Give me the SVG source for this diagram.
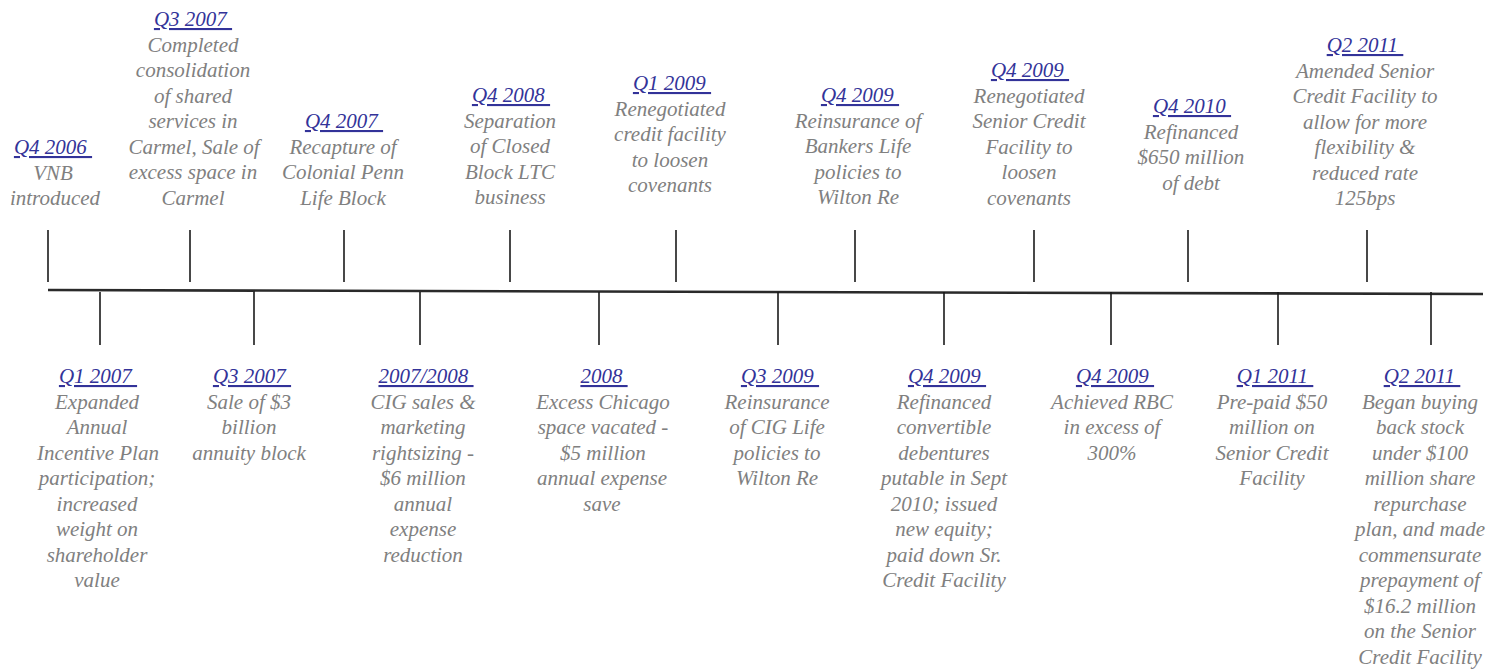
<svg xmlns="http://www.w3.org/2000/svg" width="1506" height="671" viewBox="0 0 1506 671">
<style>
text { font-family: "Liberation Serif", "Times New Roman", serif; font-style: italic; font-size: 21px; text-anchor: middle; }
.date { fill: #333399; text-decoration: underline; white-space: pre; }
.body { fill: #808080; }
.tick { stroke: #1a1a1a; stroke-width: 1.6; }
.axis { stroke: #2a2a2a; stroke-width: 2.6; }
</style>
<rect width="1506" height="671" fill="#ffffff"/>
<g id="connectors">
<line class="axis" x1="48" y1="290" x2="1483" y2="294"/>
<line class="tick" x1="48" y1="230" x2="48" y2="282"/>
<line class="tick" x1="190" y1="230" x2="190" y2="282"/>
<line class="tick" x1="344" y1="230" x2="344" y2="282"/>
<line class="tick" x1="510" y1="230" x2="510" y2="282"/>
<line class="tick" x1="676" y1="230" x2="676" y2="282"/>
<line class="tick" x1="855" y1="230" x2="855" y2="282"/>
<line class="tick" x1="1034" y1="230" x2="1034" y2="282"/>
<line class="tick" x1="1188" y1="230" x2="1188" y2="282"/>
<line class="tick" x1="1367" y1="230" x2="1367" y2="282"/>
<line class="tick" x1="100" y1="292" x2="100" y2="345"/>
<line class="tick" x1="254" y1="292" x2="254" y2="345"/>
<line class="tick" x1="420" y1="292" x2="420" y2="345"/>
<line class="tick" x1="599" y1="292" x2="599" y2="345"/>
<line class="tick" x1="778" y1="292" x2="778" y2="345"/>
<line class="tick" x1="944" y1="292" x2="944" y2="345"/>
<line class="tick" x1="1111" y1="292" x2="1111" y2="345"/>
<line class="tick" x1="1278" y1="292" x2="1278" y2="345"/>
<line class="tick" x1="1431" y1="292" x2="1431" y2="345"/>
</g>
<g id="u1"><text class="date" x="53" y="154" xml:space="preserve">Q4 2006 </text><text class="body"><tspan x="53" y="179.5">VNB</tspan><tspan x="55" y="205">introduced</tspan></text></g>
<g id="u2"><text class="date" x="193" y="26" xml:space="preserve">Q3 2007 </text><text class="body"><tspan x="193" y="51.5">Completed</tspan><tspan x="193" y="77">consolidation</tspan><tspan x="193" y="102.5">of shared</tspan><tspan x="193" y="128">services in</tspan><tspan x="194" y="153.5">Carmel, Sale of</tspan><tspan x="193" y="179">excess space in</tspan><tspan x="193" y="204.5">Carmel</tspan></text></g>
<g id="u3"><text class="date" x="344" y="128" xml:space="preserve">Q4 2007 </text><text class="body"><tspan x="343" y="153.5">Recapture of</tspan><tspan x="343" y="179">Colonial Penn</tspan><tspan x="343" y="204.5">Life Block</tspan></text></g>
<g id="u4"><text class="date" x="511" y="102" xml:space="preserve">Q4 2008 </text><text class="body"><tspan x="510" y="127.5">Separation</tspan><tspan x="510" y="153">of Closed</tspan><tspan x="510" y="178.5">Block LTC</tspan><tspan x="510" y="204">business</tspan></text></g>
<g id="u5"><text class="date" x="672" y="90" xml:space="preserve">Q1 2009 </text><text class="body"><tspan x="670" y="115.5">Renegotiated</tspan><tspan x="670" y="141">credit facility</tspan><tspan x="670" y="166.5">to loosen</tspan><tspan x="670" y="192">covenants</tspan></text></g>
<g id="u6"><text class="date" x="860" y="102" xml:space="preserve">Q4 2009 </text><text class="body"><tspan x="858" y="127.5">Reinsurance of</tspan><tspan x="858" y="153">Bankers Life</tspan><tspan x="858" y="178.5">policies to</tspan><tspan x="858" y="204">Wilton Re</tspan></text></g>
<g id="u7"><text class="date" x="1030" y="77" xml:space="preserve">Q4 2009 </text><text class="body"><tspan x="1029" y="102.5">Renegotiated</tspan><tspan x="1029" y="128">Senior Credit</tspan><tspan x="1029" y="153.5">Facility to</tspan><tspan x="1029" y="179">loosen</tspan><tspan x="1029" y="204.5">covenants</tspan></text></g>
<g id="u8"><text class="date" x="1192" y="113" xml:space="preserve">Q4 2010 </text><text class="body"><tspan x="1191" y="138.5">Refinanced</tspan><tspan x="1191" y="164">$650 million</tspan><tspan x="1191" y="189.5">of debt</tspan></text></g>
<g id="u9"><text class="date" x="1365" y="52" xml:space="preserve">Q2 2011 </text><text class="body"><tspan x="1365" y="77.5">Amended Senior</tspan><tspan x="1365" y="103">Credit Facility to</tspan><tspan x="1365" y="128.5">allow for more</tspan><tspan x="1365" y="154">flexibility &amp;</tspan><tspan x="1365" y="179.5">reduced rate</tspan><tspan x="1365" y="205">125bps</tspan></text></g>
<g id="l1"><text class="date" x="98" y="383" xml:space="preserve">Q1 2007 </text><text class="body"><tspan x="97" y="408.5">Expanded</tspan><tspan x="97" y="434">Annual</tspan><tspan x="98" y="459.5">Incentive Plan</tspan><tspan x="97" y="485">participation;</tspan><tspan x="97" y="510.5">increased</tspan><tspan x="97" y="536">weight on</tspan><tspan x="97" y="561.5">shareholder</tspan><tspan x="97" y="587">value</tspan></text></g>
<g id="l2"><text class="date" x="252" y="383" xml:space="preserve">Q3 2007 </text><text class="body"><tspan x="249" y="408.5">Sale of $3</tspan><tspan x="249" y="434">billion</tspan><tspan x="249" y="459.5">annuity block</tspan></text></g>
<g id="l3"><text class="date" x="426" y="383" xml:space="preserve">2007/2008 </text><text class="body"><tspan x="423" y="408.5">CIG sales &amp;</tspan><tspan x="423" y="434">marketing</tspan><tspan x="423" y="459.5">rightsizing -</tspan><tspan x="423" y="485">$6 million</tspan><tspan x="423" y="510.5">annual</tspan><tspan x="423" y="536">expense</tspan><tspan x="423" y="561.5">reduction</tspan></text></g>
<g id="l4"><text class="date" x="604" y="383" xml:space="preserve">2008 </text><text class="body"><tspan x="603" y="408.5">Excess Chicago</tspan><tspan x="603" y="434">space vacated -</tspan><tspan x="603" y="459.5">$5 million</tspan><tspan x="602" y="485">annual expense</tspan><tspan x="602" y="510.5">save</tspan></text></g>
<g id="l5"><text class="date" x="780" y="383" xml:space="preserve">Q3 2009 </text><text class="body"><tspan x="777" y="408.5">Reinsurance</tspan><tspan x="777" y="434">of CIG Life</tspan><tspan x="777" y="459.5">policies to</tspan><tspan x="777" y="485">Wilton Re</tspan></text></g>
<g id="l6"><text class="date" x="947" y="383" xml:space="preserve">Q4 2009 </text><text class="body"><tspan x="944" y="408.5">Refinanced</tspan><tspan x="944" y="434">convertible</tspan><tspan x="944" y="459.5">debentures</tspan><tspan x="944" y="485">putable in Sept</tspan><tspan x="944" y="510.5">2010; issued</tspan><tspan x="944" y="536">new equity;</tspan><tspan x="944" y="561.5">paid down Sr.</tspan><tspan x="944" y="587">Credit Facility</tspan></text></g>
<g id="l7"><text class="date" x="1115" y="383" xml:space="preserve">Q4 2009 </text><text class="body"><tspan x="1112" y="408.5">Achieved RBC</tspan><tspan x="1112" y="434">in excess of</tspan><tspan x="1112" y="459.5">300%</tspan></text></g>
<g id="l8"><text class="date" x="1275" y="383" xml:space="preserve">Q1 2011 </text><text class="body"><tspan x="1272" y="408.5">Pre-paid $50</tspan><tspan x="1272" y="434">million on</tspan><tspan x="1272" y="459.5">Senior Credit</tspan><tspan x="1272" y="485">Facility</tspan></text></g>
<g id="l9"><text class="date" x="1422" y="383" xml:space="preserve">Q2 2011 </text><text class="body"><tspan x="1420" y="408.5">Began buying</tspan><tspan x="1420" y="434">back stock</tspan><tspan x="1420" y="459.5">under $100</tspan><tspan x="1420" y="485">million share</tspan><tspan x="1420" y="510.5">repurchase</tspan><tspan x="1420" y="536">plan, and made</tspan><tspan x="1420" y="561.5">commensurate</tspan><tspan x="1420" y="587">prepayment of</tspan><tspan x="1420" y="612.5">$16.2 million</tspan><tspan x="1420" y="638">on the Senior</tspan><tspan x="1420" y="663.5">Credit Facility</tspan></text></g>
</svg>
